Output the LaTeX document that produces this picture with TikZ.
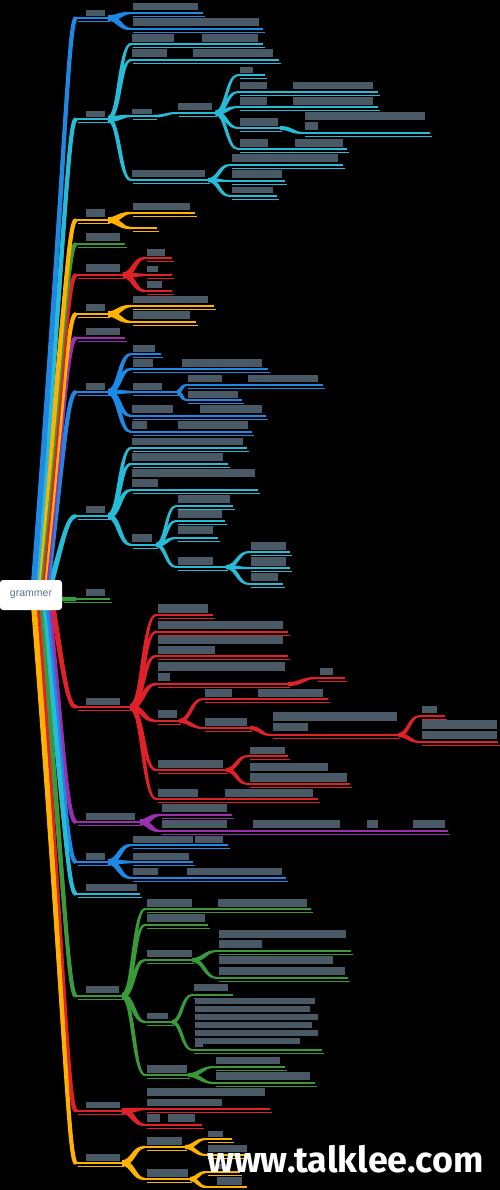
\documentclass[tikz,border=0pt]{standalone}
\usepackage{fontspec}
\newfontfamily\rootfont{Liberation Sans}
\newfontfamily\wmfont{Fira Sans}
\usetikzlibrary{calc}
\definecolor{cB}{HTML}{1E88E5}
\definecolor{cC}{HTML}{26BCD7}
\definecolor{cO}{HTML}{FFB300}
\definecolor{cG}{HTML}{3A9A3A}
\definecolor{cR}{HTML}{E02128}
\definecolor{cP}{HTML}{9C2FB0}
\definecolor{txt}{HTML}{4A5966}
\definecolor{rootc}{HTML}{5E7382}
\tikzset{
  ltwo/.style={/utils/exec={\def\hA{2.8}\def\hB{1.2}\def\kk{2.2}}},
  lthree/.style={/utils/exec={\def\hA{2.0}\def\hB{1.0}\def\kk{1.6}}},
  lsmall/.style={/utils/exec={\def\hA{1.4}\def\hB{1.0}\def\kk{1.0}}},
  lone/.style={line width=4.2pt},
  uone/.style={line width=2.8pt},
  utwo/.style={line width=2.4pt},
  uthree/.style={line width=2pt},
  rootbox/.style={fill=white,rounded corners=3pt,minimum width=62pt,minimum height=30pt,inner sep=0pt,text=rootc,font=\rootfont\fontsize{10.5}{12}\selectfont}
}
% underline of a node: name, x1, x2, y, colour, style
\newcommand\mUL[6]{\coordinate (#1s) at (#2,#4);\coordinate (#1e) at (#3,#4);\draw[#5,#6] (#1s) -- (#1e);\draw[#5,line width=0.7pt] ($(#1s)+(2,3.2)$) -- ($(#1e)+(2,3.2)$);}
% text block (illegible label): x1, x2, ytop, ybottom
\newcommand\mTB[4]{\fill[txt] (#1,#3) rectangle (#2,#4);}
% tapered connector from node end to child start
\newcommand\mCN[4]{\tikzset{#4}%
  \fill[#3] let \p1=(#1),\p2=(#2),\n1={ifthenelse(\y2>\y1,1,ifthenelse(\y2<\y1,-1,0))} in
  (\x1,{\y1+\hA pt}) .. controls ({(\x1+\x2)/2-\n1*\kk pt},{\y1+\hA pt}) and ({(\x1+\x2)/2-\n1*\kk pt},{\y2+\hB pt}) .. (\x2,{\y2+\hB pt})
  -- (\x2,{\y2-\hB pt}) .. controls ({(\x1+\x2)/2+\n1*\kk pt},{\y2-\hB pt}) and ({(\x1+\x2)/2+\n1*\kk pt},{\y1-\hA pt}) .. (\x1,{\y1-\hA pt}) -- cycle;}
% level-1 branches from the root (up / down), thicker at the root: start x, node y, node name, colour
\newcommand\mLU[4]{\pgfmathsetmacro\cc{#2+0.3*(580-#2)}%
  \draw[#4,lone] (#1,580) .. controls (64,\cc) and (68,#2) .. (#3s);%
  \fill[#4] ({#1-2.8},580) .. controls (61.4,\cc) and (66.6,{#2-1.6}) .. ($(#3s)+(0,-1.6)$)
   -- ($(#3s)+(0,1.6)$) .. controls (69.4,{#2+1.6}) and (66.6,\cc) .. ({#1+2.8},580) -- cycle;}
\newcommand\mLD[4]{\pgfmathsetmacro\cc{#2-0.3*(#2-608)}%
  \draw[#4,lone] (#1,608) .. controls (64,\cc) and (68,#2) .. (#3s);%
  \fill[#4] ({#1-2.8},608) .. controls (61.4,\cc) and (66.6,{#2+1.6}) .. ($(#3s)+(0,1.6)$)
   -- ($(#3s)+(0,-1.6)$) .. controls (69.4,{#2-1.6}) and (66.6,\cc) .. ({#1+2.8},608) -- cycle;}
\begin{document}
\begin{tikzpicture}[x=1pt,y=-1pt]
\fill[black] (0,0) rectangle (500,1190);
\useasboundingbox (0,0) rectangle (500,1190);

% ---------- level 1 ----------
\mUL{n1}{76}{108}{18}{cB}{uone}   \mTB{86}{105}{10}{16}
\mUL{n2}{76}{108}{119}{cC}{uone}  \mTB{86}{105}{111}{117}
\mUL{n3}{76}{108}{220}{cO}{uone}  \mTB{86}{105}{209}{217}
\mUL{n4}{76}{125}{244}{cG}{uone}  \mTB{86}{120}{233}{241}
\mUL{n5}{76}{123}{275}{cR}{uone}  \mTB{86}{120}{264}{272}
\mUL{n6}{76}{108}{314}{cO}{uone}  \mTB{86}{105}{304}{311}
\mUL{n7}{76}{125}{338}{cP}{uone}  \mTB{86}{120}{328}{335}
\mUL{n8}{76}{108}{392}{cB}{uone}  \mTB{86}{105}{383}{390}
\mUL{n9}{76}{108}{516}{cC}{uone}  \mTB{86}{105}{506}{513}
\mUL{n10}{62}{110}{599}{cG}{uone} \mTB{86}{105}{589}{596}
\mUL{n11}{76}{130}{707}{cR}{uone} \mTB{86}{120}{698}{705}
\mUL{n12}{76}{140}{822}{cP}{uone} \mTB{86}{135}{813}{820}
\mUL{n13}{76}{108}{862}{cB}{uone} \mTB{86}{105}{853}{860}
\mUL{n14}{76}{140}{894}{cC}{uone} \mTB{86}{137}{884}{891}
\mUL{n15}{76}{122}{996}{cG}{uone} \mTB{86}{119}{986}{993}
\mUL{n16}{76}{122}{1111}{cR}{uone} \mTB{86}{120}{1102}{1108}
\mUL{n17}{76}{122}{1163}{cO}{uone} \mTB{86}{120}{1154}{1161}

\mLU{52}{516}{n9}{cC}
\mLU{48}{392}{n8}{cB}
\mLU{46}{338}{n7}{cP}
\mLU{44}{314}{n6}{cO}
\mLU{42}{275}{n5}{cR}
\mLU{40}{244}{n4}{cG}
\mLU{38}{220}{n3}{cO}
\mLU{36}{119}{n2}{cC}
\mLU{34}{18}{n1}{cB}
\mLD{53}{707}{n11}{cR}
\mLD{49}{822}{n12}{cP}
\mLD{46}{862}{n13}{cB}
\mLD{43}{894}{n14}{cC}
\mLD{40}{996}{n15}{cG}
\mLD{37}{1111}{n16}{cR}
\mLD{34}{1163}{n17}{cO}
\draw[cG,line width=4.5pt] (55,598) -- (n10s) -- (76,599);

% ---------- branch 1 (blue) ----------
\mUL{a1}{131}{203}{13}{cB}{utwo} \mTB{133}{198}{3}{10}
\mUL{a2}{131}{263}{29}{cB}{utwo} \mTB{133}{259}{18}{26}
\mCN{n1e}{a1s}{cB}{ltwo} \mCN{n1e}{a2s}{cB}{ltwo}

% ---------- branch 2 (cyan) ----------
\mUL{b1}{131}{263}{44}{cC}{utwo}  \mTB{132}{174}{34}{42} \mTB{202}{258}{34}{42}
\mUL{b2}{131}{279}{60}{cC}{utwo}  \mTB{132}{167}{49}{57} \mTB{193}{273}{49}{57}
\mUL{b3}{131}{155}{116}{cC}{utwo} \mTB{132}{152}{109}{114}
\mUL{b4}{131}{208}{180}{cC}{utwo} \mTB{132}{205}{170}{177}
\mCN{n2e}{b1s}{cC}{ltwo} \mCN{n2e}{b2s}{cC}{ltwo} \mCN{n2e}{b3s}{cC}{ltwo} \mCN{n2e}{b4s}{cC}{ltwo}
\mUL{b3b}{177}{215}{113}{cC}{uthree} \mTB{178}{212}{103}{110}
\mCN{b3e}{b3bs}{cC}{lsmall}
\mUL{d1}{238}{265}{75}{cC}{uthree}  \mTB{240}{253}{67}{73}
\mUL{d2}{238}{378}{92}{cC}{uthree}  \mTB{240}{267}{82}{89} \mTB{293}{373}{82}{89}
\mUL{d3}{238}{378}{107}{cC}{uthree} \mTB{240}{267}{97}{105} \mTB{293}{373}{97}{105}
\mUL{d4}{238}{280}{128}{cC}{uthree} \mTB{240}{278}{118}{126}
\mUL{d5}{238}{347}{149}{cC}{uthree} \mTB{240}{268}{139}{147} \mTB{295}{343}{139}{147}
\foreach \c in {d1,d2,d3,d4,d5} {\mCN{b3be}{\c s}{cC}{lthree}}
\mUL{e1}{303}{430}{133}{cC}{uthree} \mTB{305}{425}{112}{120} \mTB{305}{318}{122}{130}
\mCN{d4e}{e1s}{cC}{lthree}
\mUL{f1}{230}{343}{165}{cC}{uthree} \mTB{232}{338}{154}{162}
\mUL{f2}{230}{285}{181}{cC}{uthree} \mTB{232}{282}{170}{178}
\mUL{f3}{230}{277}{196}{cC}{uthree} \mTB{232}{273}{187}{193}
\foreach \c in {f1,f2,f3} {\mCN{b4e}{\c s}{cC}{lthree}}

% ---------- branch 3 (orange) ----------
\mUL{g1}{131}{195}{213}{cO}{utwo} \mTB{133}{190}{203}{210}
\mUL{g2}{131}{157}{228}{cO}{utwo}
\mCN{n3e}{g1s}{cO}{ltwo} \mCN{n3e}{g2s}{cO}{ltwo}

% ---------- branch 5 (red) ----------
\mUL{h1}{145}{172}{258}{cR}{utwo} \mTB{147}{165}{249}{256}
\mUL{h2}{145}{172}{275}{cR}{utwo} \mTB{147}{158}{266}{272}
\mUL{h3}{145}{172}{291}{cR}{utwo} \mTB{147}{162}{281}{288}
\foreach \c in {h1,h2,h3} {\mCN{n5e}{\c s}{cR}{ltwo}}

% ---------- branch 6 (orange) ----------
\mUL{i1}{131}{214}{306}{cO}{utwo} \mTB{133}{208}{296}{303}
\mUL{i2}{131}{196}{322}{cO}{utwo} \mTB{133}{190}{311}{319}
\mCN{n6e}{i1s}{cO}{ltwo} \mCN{n6e}{i2s}{cO}{ltwo}

% ---------- branch 8 (blue) ----------
\mUL{j1}{131}{161}{354}{cB}{utwo} \mTB{133}{155}{345}{352}
\mUL{j2}{131}{268}{369}{cB}{utwo} \mTB{133}{153}{359}{367} \mTB{182}{262}{359}{367}
\mUL{j3}{131}{177}{392}{cB}{utwo} \mTB{133}{162}{383}{390}
\mUL{j4}{131}{266}{416}{cB}{utwo} \mTB{132}{173}{405}{413} \mTB{200}{262}{405}{413}
\mUL{j5}{131}{252}{432}{cB}{utwo} \mTB{132}{147}{421}{429} \mTB{178}{248}{421}{429}
\foreach \c in {j1,j2,j3,j4,j5} {\mCN{n8e}{\c s}{cB}{ltwo}}
\mUL{k1}{186}{323}{385}{cB}{uthree} \mTB{188}{222}{375}{382} \mTB{248}{318}{375}{382}
\mUL{k2}{186}{242}{400}{cB}{uthree} \mTB{188}{238}{391}{398}
\mCN{j3e}{k1s}{cB}{lthree} \mCN{j3e}{k2s}{cB}{lthree}

% ---------- branch 9 (cyan) ----------
\mUL{l1}{131}{247}{448}{cC}{utwo} \mTB{132}{243}{438}{445}
\mUL{l2}{131}{228}{464}{cC}{utwo} \mTB{132}{223}{453}{461}
\mUL{l3}{131}{258}{490}{cC}{utwo} \mTB{132}{255}{469}{477} \mTB{132}{158}{479}{487}
\mUL{l4}{131}{156}{545}{cC}{utwo} \mTB{132}{152}{534}{542}
\foreach \c in {l1,l2,l3,l4} {\mCN{n9e}{\c s}{cC}{ltwo}}
\mUL{m1}{176}{233}{506}{cC}{uthree} \mTB{178}{230}{495}{503}
\mUL{m2}{176}{225}{521}{cC}{uthree} \mTB{178}{222}{510}{518}
\mUL{m3}{176}{218}{538}{cC}{uthree} \mTB{178}{213}{526}{534}
\mUL{m4}{176}{226}{567}{cC}{uthree} \mTB{178}{213}{557}{565}
\foreach \c in {m1,m2,m3,m4} {\mCN{l4e}{\c s}{cC}{lthree}}
\mUL{p1x}{249}{290}{552}{cC}{uthree} \mTB{251}{286}{542}{550}
\mUL{p2x}{249}{290}{568}{cC}{uthree} \mTB{251}{286}{557}{566}
\mUL{p3x}{249}{283}{584}{cC}{uthree} \mTB{251}{278}{573}{581}
\foreach \c in {p1x,p2x,p3x} {\mCN{m4e}{\c s}{cC}{lthree}}

% ---------- branch 11 (red) ----------
\mUL{o1}{156}{213}{615}{cR}{utwo} \mTB{158}{208}{604}{613}
\mUL{o2}{156}{288}{632}{cR}{utwo} \mTB{158}{283}{621}{629}
\mUL{o3}{156}{288}{656}{cR}{utwo} \mTB{158}{283}{636}{644} \mTB{158}{215}{646}{654}
\mUL{o4}{156}{288}{684}{cR}{utwo} \mTB{158}{285}{662}{671} \mTB{158}{170}{673}{681}
\mUL{o5}{156}{179}{721}{cR}{utwo} \mTB{158}{177}{710}{718}
\mUL{o6}{156}{226}{770}{cR}{utwo} \mTB{158}{223}{760}{768}
\mUL{o7}{156}{318}{799}{cR}{utwo} \mTB{158}{198}{789}{797} \mTB{225}{313}{789}{797}
\foreach \c in {o1,o2,o3,o4,o5,o6,o7} {\mCN{n11e}{\c s}{cR}{ltwo}}
\mUL{q0}{316}{345}{678}{cR}{uthree} \mTB{320}{333}{668}{675}
\mCN{o4e}{q0s}{cR}{lthree}
\mUL{q1}{203}{328}{699}{cR}{uthree} \mTB{205}{232}{689}{697} \mTB{258}{323}{689}{697}
\mUL{q2}{203}{250}{728}{cR}{uthree} \mTB{205}{247}{718}{726}
\mCN{o5e}{q1s}{cR}{lthree} \mCN{o5e}{q2s}{cR}{lthree}
\mUL{q3}{271}{398}{735}{cR}{uthree} \mTB{273}{397}{712}{721} \mTB{273}{308}{723}{731}
\mCN{q2e}{q3s}{cR}{lthree}
\mUL{r1}{420}{445}{716}{cR}{uthree} \mTB{422}{437}{706}{713}
\mUL{r2}{420}{498}{742}{cR}{uthree} \mTB{422}{497}{720}{729} \mTB{422}{497}{731}{739}
\mCN{q3e}{r1s}{cR}{lthree} \mCN{q3e}{r2s}{cR}{lthree}
\mUL{s1}{248}{288}{756}{cR}{uthree} \mTB{250}{285}{747}{754}
\mUL{s2}{248}{350}{784}{cR}{uthree} \mTB{250}{328}{763}{771} \mTB{250}{347}{773}{782}
\mCN{o6e}{s1s}{cR}{lthree} \mCN{o6e}{s2s}{cR}{lthree}

% ---------- branch 12 (purple) ----------
\mUL{t1}{160}{232}{815}{cP}{utwo} \mTB{162}{227}{804}{812}
\mUL{t2}{160}{448}{831}{cP}{utwo} \mTB{162}{227}{820}{828} \mTB{253}{340}{820}{828} \mTB{367}{378}{820}{828} \mTB{413}{445}{820}{828}
\mCN{n12e}{t1s}{cP}{ltwo} \mCN{n12e}{t2s}{cP}{ltwo}

% ---------- branch 13 (blue) ----------
\mUL{u1}{131}{228}{845}{cB}{utwo} \mTB{133}{193}{836}{843} \mTB{195}{223}{836}{843}
\mUL{u2}{131}{193}{862}{cB}{utwo} \mTB{133}{189}{853}{860}
\mUL{u3}{131}{286}{878}{cB}{utwo} \mTB{133}{158}{868}{875} \mTB{187}{282}{868}{875}
\foreach \c in {u1,u2,u3} {\mCN{n13e}{\c s}{cB}{ltwo}}

% ---------- branch 15 (green) ----------
\mUL{v1}{145}{311}{909}{cG}{utwo} \mTB{147}{192}{899}{907} \mTB{218}{307}{899}{907}
\mUL{v2}{145}{208}{925}{cG}{utwo} \mTB{147}{205}{914}{922}
\mUL{v3}{145}{192}{960}{cG}{utwo} \mTB{147}{192}{950}{957}
\mUL{v4}{145}{172}{1022}{cG}{utwo} \mTB{147}{168}{1013}{1019}
\mUL{v5}{145}{188}{1075}{cG}{utwo} \mTB{147}{187}{1065}{1073}
\foreach \c in {v1,v2,v3,v4,v5} {\mCN{n15e}{\c s}{cG}{ltwo}}
\mUL{w1}{217}{351}{951}{cG}{uthree} \mTB{219}{346}{930}{938} \mTB{219}{262}{940}{948}
\mUL{w2}{217}{348}{978}{cG}{uthree} \mTB{219}{333}{956}{964} \mTB{219}{345}{967}{975}
\mCN{v3e}{w1s}{cG}{lthree} \mCN{v3e}{w2s}{cG}{lthree}
\mUL{x1}{192}{233}{995}{cG}{uthree} \mTB{194}{228}{984}{991}
\mUL{x2}{192}{322}{1050}{cG}{uthree}
\mTB{195}{315}{998}{1004} \mTB{195}{310}{1006}{1012} \mTB{195}{318}{1014}{1020}
\mTB{195}{312}{1022}{1028} \mTB{195}{318}{1030}{1036} \mTB{195}{300}{1038}{1044} \mTB{195}{203}{1042}{1047}
\mCN{v4e}{x1s}{cG}{lthree} \mCN{v4e}{x2s}{cG}{lthree}
\mUL{y1}{214}{285}{1067}{cG}{uthree} \mTB{216}{280}{1057}{1064}
\mUL{y2}{214}{315}{1083}{cG}{uthree} \mTB{216}{310}{1072}{1080}
\mCN{v5e}{y1s}{cG}{lthree} \mCN{v5e}{y2s}{cG}{lthree}

% ---------- branch 16 (red) ----------
\mUL{z1}{145}{270}{1109}{cR}{utwo} \mTB{147}{265}{1088}{1096} \mTB{147}{222}{1099}{1106}
\mUL{z2}{145}{202}{1125}{cR}{utwo} \mTB{147}{160}{1114}{1122} \mTB{168}{195}{1114}{1122}
\mCN{n16e}{z1s}{cR}{ltwo} \mCN{n16e}{z2s}{cR}{ltwo}

% ---------- branch 17 (orange) ----------
\mUL{aa}{145}{185}{1147}{cO}{utwo} \mTB{147}{182}{1137}{1145}
\mUL{bb}{145}{190}{1179}{cO}{utwo} \mTB{147}{188}{1169}{1177}
\mCN{n17e}{aas}{cO}{ltwo} \mCN{n17e}{bbs}{cO}{ltwo}
\mUL{aa1}{206}{232}{1139}{cO}{uthree} \mTB{208}{223}{1131}{1137}
\mUL{aa2}{206}{248}{1155}{cO}{uthree} \mTB{208}{247}{1145}{1152}
\mCN{aae}{aa1s}{cO}{lthree} \mCN{aae}{aa2s}{cO}{lthree}
\mUL{bb1}{206}{240}{1172}{cO}{uthree} \mTB{217}{228}{1164}{1169}
\mUL{bb2}{206}{247}{1187}{cO}{uthree} \mTB{217}{242}{1177}{1185}
\mCN{bbe}{bb1s}{cO}{lthree} \mCN{bbe}{bb2s}{cO}{lthree}

% ---------- root ----------
\node[rootbox] (root) at (31,595) {grammer};

% ---------- watermark ----------
\node[anchor=base west,inner sep=0pt,text=white] (wm) at (207,1172) {\resizebox{276pt}{!}{\wmfont\bfseries www.talklee.com}};
\end{tikzpicture}
\end{document}
